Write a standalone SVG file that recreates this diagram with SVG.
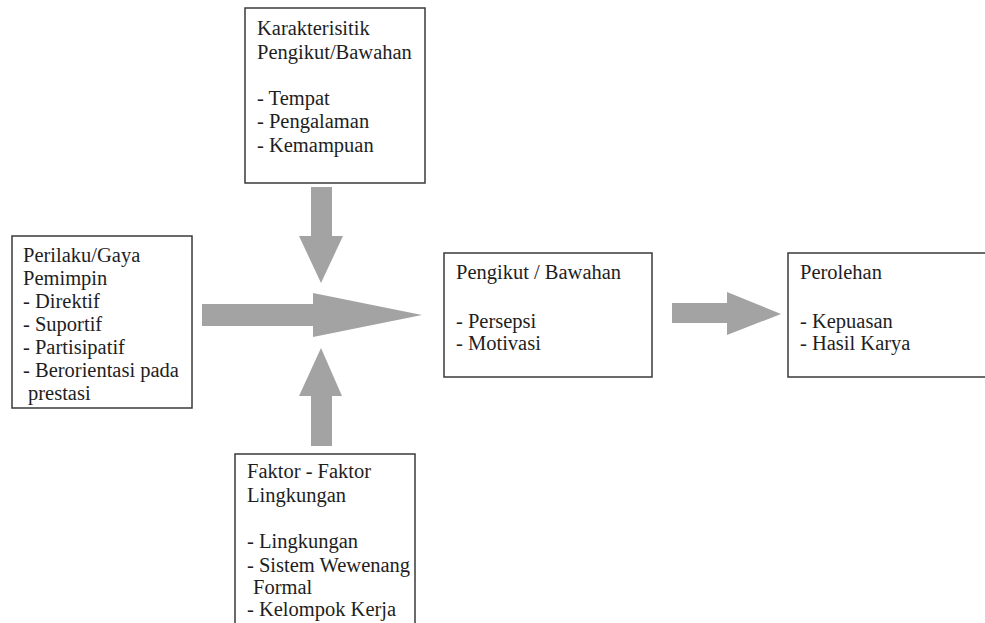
<svg xmlns="http://www.w3.org/2000/svg" width="985" height="623" viewBox="0 0 985 623">
  <style>
    .box { fill: #ffffff; stroke: #3a3a3a; stroke-width: 1.5; }
    .arrow { fill: #a3a3a3; }
    .lbl { font-family: 'Liberation Serif', 'DejaVu Serif', serif; font-size: 20.5px; fill: #1e1e1e; }
  </style>
  <rect width="985" height="623" fill="#ffffff"/>

  <!-- block arrows -->
  <g id="connectors">
    <!-- down arrow from characteristics box -->
    <polygon class="arrow" points="311,187 332,187 332,236 343,236 321,283 299,236 311,236"/>
    <!-- main arrow from leader behaviour -->
    <polygon class="arrow" points="202,304 313,304 313,293 422,315 313,337 313,326 202,326"/>
    <!-- up arrow from environment factors -->
    <polygon class="arrow" points="311,446 332,446 332,396 342,396 321,348 299,396 311,396"/>
    <!-- arrow to outcomes -->
    <polygon class="arrow" points="672,303 727,303 727,292 781,314 727,335 727,323 672,323"/>
  </g>

  <g id="karakteristik" class="lbl" font-family="Liberation Serif, DejaVu Serif, serif">
    <rect class="box" x="245" y="8" width="180" height="175"/>
    <text x="257" y="35">Karakterisitik</text>
    <text x="257" y="59">Pengikut/Bawahan</text>
    <text x="257" y="105">- Tempat</text>
    <text x="257" y="128">- Pengalaman</text>
    <text x="257" y="152">- Kemampuan</text>
  </g>

  <g id="perilaku" class="lbl" font-family="Liberation Serif, DejaVu Serif, serif">
    <rect class="box" x="12" y="236" width="180" height="172"/>
    <text x="23" y="262">Perilaku/Gaya</text>
    <text x="23" y="285">Pemimpin</text>
    <text x="23" y="308">- Direktif</text>
    <text x="23" y="331">- Suportif</text>
    <text x="23" y="354">- Partisipatif</text>
    <text x="23" y="377">- Berorientasi pada</text>
    <text x="28" y="400">prestasi</text>
  </g>

  <g id="pengikut" class="lbl" font-family="Liberation Serif, DejaVu Serif, serif">
    <rect class="box" x="444" y="253" width="208" height="124"/>
    <text x="456" y="279">Pengikut / Bawahan</text>
    <text x="456" y="328">- Persepsi</text>
    <text x="456" y="350">- Motivasi</text>
  </g>

  <g id="perolehan" class="lbl" font-family="Liberation Serif, DejaVu Serif, serif">
    <rect class="box" x="788" y="253" width="210" height="124"/>
    <text x="800" y="279">Perolehan</text>
    <text x="800" y="328">- Kepuasan</text>
    <text x="800" y="350">- Hasil Karya</text>
  </g>

  <g id="lingkungan" class="lbl" font-family="Liberation Serif, DejaVu Serif, serif">
    <rect class="box" x="235" y="454" width="180" height="180"/>
    <text x="247" y="478">Faktor - Faktor</text>
    <text x="247" y="502">Lingkungan</text>
    <text x="247" y="548">- Lingkungan</text>
    <text x="247" y="572">- Sistem Wewenang</text>
    <text x="253" y="594">Formal</text>
    <text x="247" y="616">- Kelompok Kerja</text>
  </g>
</svg>
